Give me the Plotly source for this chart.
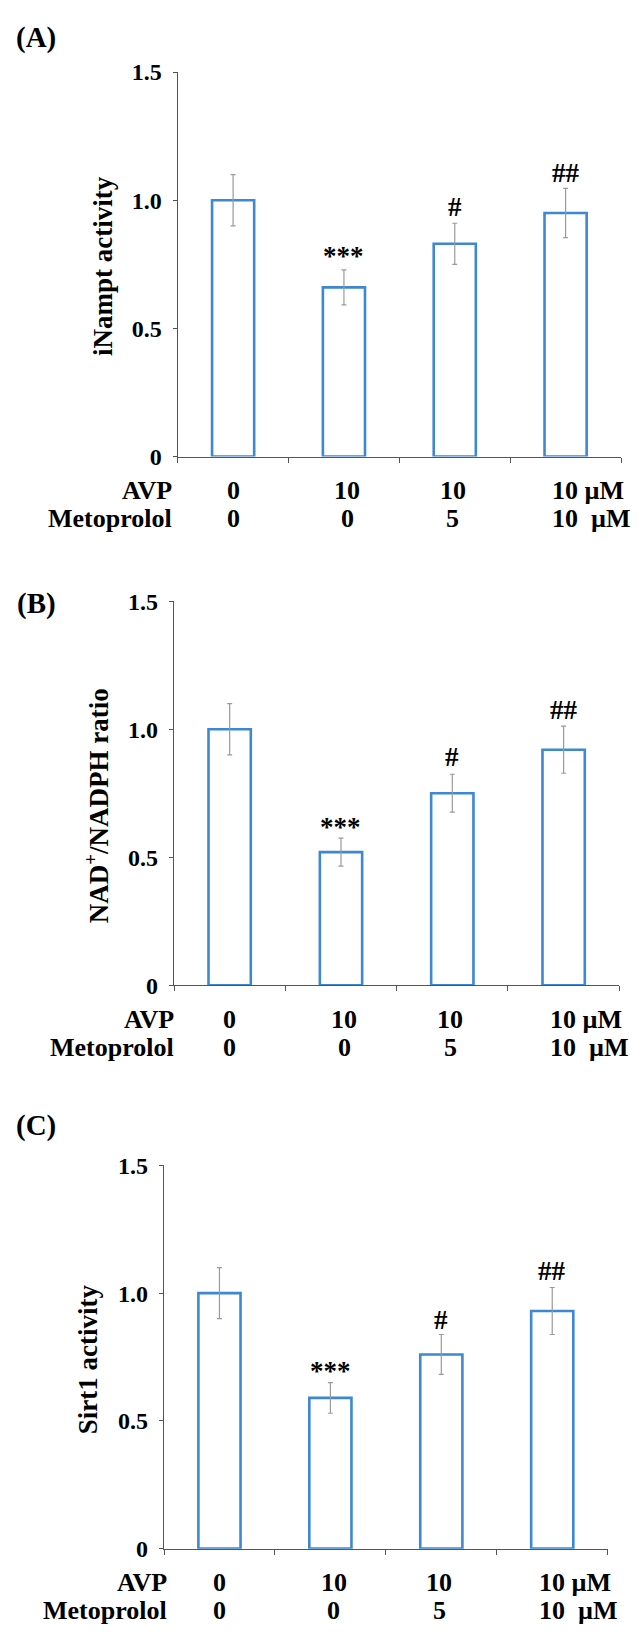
import plotly.graph_objects as go

# ---------------- data ----------------
groups = [0, 1, 2, 3]
avp_labels = ["0", "10", "10", "10 µM"]
meto_labels = ["0", "0", "5", "10\u00a0 µM"]
row_names = ["AVP", "Metoprolol"]
y_ticks = [0, 0.5, 1.0, 1.5]
y_tick_text = ["0", "0.5", "1.0", "1.5"]

panel_letters = ["(A)", "(B)", "(C)"]
y_titles = ["iNampt activity", "NAD<sup>+</sup>/NADPH ratio", "Sirt1 activity"]

inampt_mean = [1.00, 0.66, 0.83, 0.95]
inampt_err = [0.10, 0.068, 0.080, 0.096]
inampt_sig = ["", "***", "#", "##"]
inampt_sig_y = [None, 0.782, 0.975, 1.107]

nad_mean = [1.00, 0.52, 0.75, 0.92]
nad_err = [0.10, 0.055, 0.074, 0.092]
nad_sig = ["", "***", "#", "##"]
nad_sig_y = [None, 0.618, 0.891, 1.074]

sirt_mean = [1.00, 0.59, 0.76, 0.93]
sirt_err = [0.10, 0.060, 0.078, 0.092]
sirt_sig = ["", "***", "#", "##"]
sirt_sig_y = [None, 0.695, 0.896, 1.086]

# ---------------- layout geometry (pixels) ----------------
W, H = 641, 1633
FONT = "Liberation Serif, Times New Roman, serif"
BLUE = "#3D87D3"
AXIS = "#555555"

panels = [
    dict(mean=inampt_mean, err=inampt_err, sig=inampt_sig, sig_y=inampt_sig_y,
         x0=177.7, x1=621.0, ytop=60.0, ybot=450.7, letter_y=25, title_x=103, title_y=257,
         row_x=174),
    dict(mean=nad_mean, err=nad_err, sig=nad_sig, sig_y=nad_sig_y,
         x0=174.0, x1=619.3, ytop=597.7, ybot=988.0, letter_y=600, title_x=97, title_y=806,
         row_x=176),
    dict(mean=sirt_mean, err=sirt_err, sig=sirt_sig, sig_y=sirt_sig_y,
         x0=164.0, x1=607.7, ytop=1171.0, ybot=1560.5, letter_y=1130, title_x=88, title_y=1368,
         row_x=169),
]

val_x = [0.0, 1.03, 1.98]
last_x = 2.86

fig = go.Figure()
annotations = []
layout_axes = {}

for i, p in enumerate(panels):
    n = "" if i == 0 else str(i + 1)
    xa, ya = "x" + n, "y" + n
    fig.add_trace(go.Bar(
        x=groups, y=p["mean"], width=0.38, xaxis=xa, yaxis=ya,
        marker=dict(color="white", line=dict(color=BLUE, width=2.6)),
        error_y=dict(type="data", array=p["err"], color="#9a9a9a", thickness=1.2, width=2.5),
        showlegend=False, hoverinfo="skip",
    ))
    layout_axes["xaxis" + n] = dict(
        domain=[p["x0"] / W, p["x1"] / W], anchor=ya, range=[-0.5, 3.5],
        tickvals=[-0.5, 0.5, 1.5, 2.5, 3.5], showticklabels=False,
        ticks="outside", ticklen=5, tickcolor=AXIS, tickwidth=1,
        showline=True, linecolor=AXIS, linewidth=1.2, showgrid=False, zeroline=False,
        fixedrange=True,
    )
    layout_axes["yaxis" + n] = dict(
        domain=[1 - p["ybot"] / H, 1 - p["ytop"] / H], anchor=xa, range=[0, 1.5],
        tickvals=y_ticks, ticktext=y_tick_text,
        ticks="outside", ticklen=4, tickcolor=AXIS, tickwidth=1,
        showline=True, linecolor=AXIS, linewidth=1.2, showgrid=False, zeroline=False,
        tickfont=dict(family=FONT, size=24, color="black", weight="bold"),
        ticklabelstandoff=6, fixedrange=True,
    )
    # significance marks
    for g, s, sy in zip(groups, p["sig"], p["sig_y"]):
        if s:
            annotations.append(dict(
                x=g, y=sy, xref=xa, yref=ya, text="<b>%s</b>" % s, showarrow=False,
                xanchor="center", yanchor="middle",
                font=dict(family=FONT, size=27, color="black"),
            ))
    # panel letter
    annotations.append(dict(
        x=36 / W, y=1 - p["letter_y"] / H, xref="paper", yref="paper",
        text="<b>%s</b>" % panel_letters[i], showarrow=False,
        xanchor="center", yanchor="middle",
        font=dict(family=FONT, size=29, color="black"),
    ))
    # y title
    annotations.append(dict(
        x=p["title_x"] / W, y=1 - p["title_y"] / H, xref="paper", yref="paper",
        text="<b>%s</b>" % y_titles[i], showarrow=False, textangle=-90,
        xanchor="center", yanchor="middle",
        font=dict(family=FONT, size=27, color="black"),
    ))
    # row labels beneath axis
    for r, (name, labels, shift) in enumerate(zip(row_names, [avp_labels, meto_labels], [-34, -62])):
        annotations.append(dict(
            x=p["row_x"] / W, y=0, xref="paper", yref=ya, yshift=shift,
            text="<b>%s</b>" % name, showarrow=False, xanchor="right", yanchor="middle",
            font=dict(family=FONT, size=26, color="black"),
        ))
        for j, lab in enumerate(labels):
            if j < 3:
                annotations.append(dict(
                    x=val_x[j], y=0, xref=xa, yref=ya, yshift=shift,
                    text="<b>%s</b>" % lab, showarrow=False, xanchor="center", yanchor="middle",
                    font=dict(family=FONT, size=26, color="black"),
                ))
            else:
                annotations.append(dict(
                    x=last_x, y=0, xref=xa, yref=ya, yshift=shift,
                    text="<b>%s</b>" % lab, showarrow=False, xanchor="left", yanchor="middle",
                    font=dict(family=FONT, size=26, color="black"),
                ))

fig.update_layout(
    width=W, height=H, margin=dict(l=0, r=0, t=0, b=0),
    paper_bgcolor="white", plot_bgcolor="white",
    annotations=annotations, showlegend=False,
    **layout_axes,
)

fig.write_html("out.html", config={"displayModeBar": False})
